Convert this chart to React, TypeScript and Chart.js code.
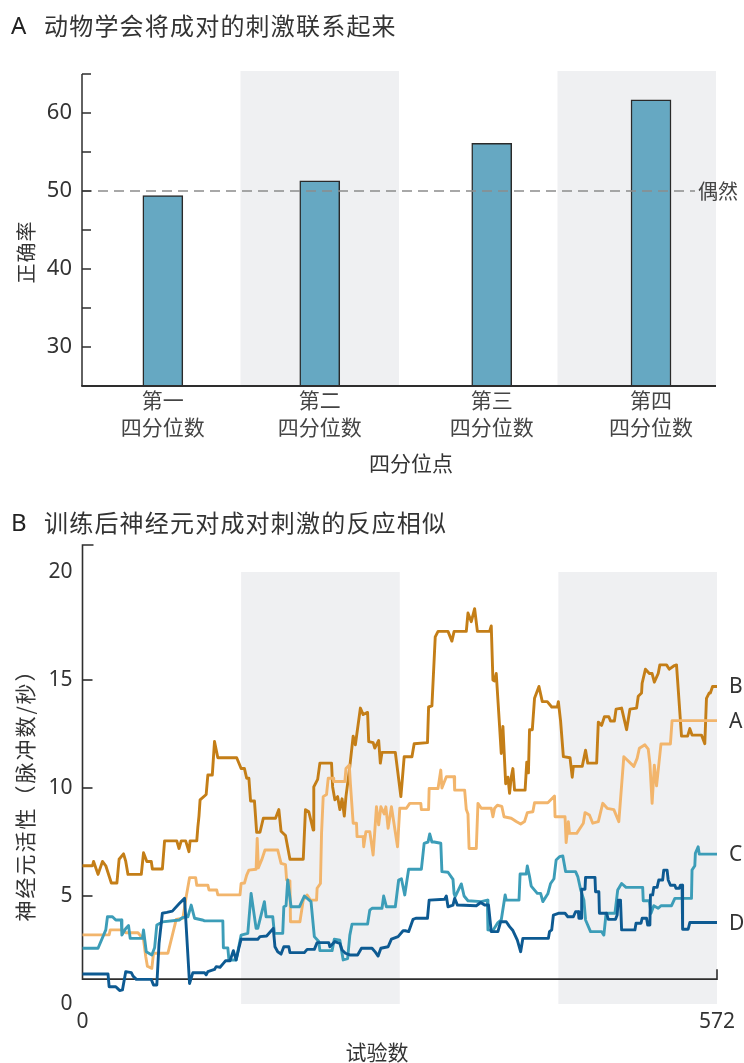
import { useEffect, useRef } from 'react';
import { Chart, registerables } from 'chart.js';

Chart.register(...registerables);

// ---------------- Panel A data ----------------
const quarterNames = ['第一', '第二', '第三', '第四'];
const quarterWord = '四分位数';
const barPositions = [0.51, 1.5, 2.585, 3.59];
const accuracyPct = [49.4, 51.3, 56.1, 61.7];
const chancePct = 50;
const accuracyTickValues = [30, 35, 40, 45, 50, 55, 60, 65];
const accuracyLabelValues = [30, 40, 50, 60];
const shadedQuartersA: [number, number][] = [[1, 2], [3, 4]];

// ---------------- Panel B data ----------------
const totalTrials = 572;
const trialTicks = [0, 572];
const rateTicks = [0, 5, 10, 15, 20];
const rateMinorTicks = [5, 10, 15];
const shadedTrialRanges: [number, number][] = [[143, 286], [429, 572]];
const trialAxisLevel = 1.15;

const seriesB: [number, number][] = [
  [0, 6.4], [9, 6.4], [10, 6.6], [14, 6.0], [18, 6.6], [21, 6.4], [26, 5.6], [31, 5.6], [33, 6.7], [37, 6.95],
  [39, 6.6], [41, 6.0], [53, 6.0], [55, 7.0], [58, 6.6], [62, 6.6], [63, 6.25], [72, 6.25], [74, 7.55], [85, 7.55],
  [87, 7.2], [89, 7.55], [93, 7.55], [96, 7.05], [97, 7.55], [103, 7.55], [104, 8.2], [105, 8.7], [106, 9.45], [111.5, 9.7],
  [113, 10.6], [117, 10.6], [119, 12.15], [122, 11.4], [139, 11.4], [143, 10.9], [146, 10.9], [148, 10.45], [150, 10.45], [151.5, 9.4],
  [155, 9.4], [157, 7.95], [160, 7.95], [163, 8.6], [174, 8.6], [177, 9.0], [179, 8.0], [183, 7.8], [187, 6.7], [199, 6.7],
  [201, 9.0], [204, 8.9], [208, 8.05], [208.5, 10.05], [212, 10.4], [214, 11.15], [224.5, 11.15], [225.5, 10.05], [227.5, 9.45], [230, 9.6],
  [232, 9.0], [234, 9.5], [236, 8.7], [237.5, 9.6], [241, 11.0], [244, 12.4], [246, 12.0], [250.5, 13.7], [253, 13.4], [257, 13.5],
  [258, 12.15], [262, 12.1], [263.5, 11.85], [267, 12.2], [268.5, 11.15], [270, 11.65], [282, 11.65], [287, 9.6], [288, 10.2], [290, 11.45],
  [297, 11.45], [299, 12.05], [311, 12.1], [312, 13.75], [315, 13.8], [318, 17.0], [320.5, 17.25], [329.5, 17.25], [333, 16.8], [335, 17.25],
  [346, 17.25], [347.5, 18.1], [350.5, 17.7], [353.5, 18.3], [356, 17.25], [367, 17.25], [368.5, 17.5], [370, 15.0], [371.5, 14.95], [373, 15.3],
  [376, 12.85], [377.5, 11.6], [379, 12.85], [381.5, 10.2], [383.5, 10.5], [385, 9.75], [386.5, 10.5], [388, 10.9], [389.5, 9.9], [399, 9.9],
  [400.5, 11.2], [402, 10.7], [403, 12.7], [405.5, 12.7], [407.5, 14.15], [411.5, 14.7], [414.5, 14.0], [419, 14.0], [423, 13.75], [428, 13.75],
  [429, 14.0], [431, 13.1], [433.5, 11.45], [439.5, 11.4], [441.5, 10.5], [442.5, 11.0], [450.5, 11.0], [453.5, 11.75], [455.5, 11.15], [463.5, 11.15],
  [465, 13.05], [468, 12.9], [470.5, 13.3], [474.5, 13.3], [476, 13.1], [479.5, 13.1], [481, 13.65], [486, 13.7], [490.5, 12.7], [493.5, 13.65],
  [499.5, 13.7], [501, 14.25], [504, 14.4], [504.5, 14.85], [507.5, 15.5], [511, 15.3], [513.5, 15.3], [515.5, 14.9], [519, 15.3], [520.5, 15.7],
  [526.5, 15.7], [529, 15.5], [533, 15.65], [535.5, 15.7], [540, 12.4], [545.5, 12.4], [547.5, 12.75], [549.5, 12.45], [558, 12.45], [561, 12.05],
  [562.5, 14.15], [565, 14.4], [566, 14.4], [568, 14.7], [572, 14.7],
];

const seriesA: [number, number][] = [
  [0, 3.2], [24, 3.2], [25, 3.43], [37, 3.43], [39, 3.3], [50, 3.3], [55, 3.0], [57, 2.2], [58.5, 1.75], [62.5, 1.65],
  [64, 2.35], [77, 2.35], [84.5, 3.92], [90.5, 3.97], [93.5, 4.97], [96.5, 5.85], [102, 5.85], [103, 5.5], [113, 5.5], [114, 5.28],
  [121, 5.28], [122, 5.05], [142, 5.05], [143, 5.58], [146, 5.6], [148, 5.97], [150, 6.2], [156.5, 6.24], [157.5, 7.67], [158.5, 6.3],
  [161.5, 6.67], [164.5, 7.13], [176, 7.13], [179, 6.51], [183, 6.45], [184, 5.74], [187, 5.7], [187.5, 3.81], [196, 3.81], [199, 4.81],
  [202.5, 5.05], [205.5, 4.81], [211, 4.81], [211.5, 5.36], [214.5, 5.58], [215.5, 7.9], [217, 9.6], [220, 9.7], [221.5, 10.45], [226, 10.45],
  [226.5, 10.3], [236.5, 10.3], [237.5, 10.9], [240.5, 11.06], [241.5, 10.2], [244, 8.37], [247, 8.37], [247.5, 7.75], [253, 7.75], [253.5, 7.28],
  [255.5, 7.98], [259, 7.98], [262, 6.9], [263.5, 8.0], [265, 9.13], [267, 8.3], [269, 9.13], [272, 8.8], [273.5, 9.13], [275.5, 8.13],
  [278.5, 9.13], [284, 7.28], [286, 9.06], [292, 9.06], [295, 9.29], [305, 9.29], [305.5, 9.0], [312, 9.0], [312.5, 9.98], [320.5, 9.98],
  [323, 10.83], [324, 10.0], [328, 10.52], [335, 10.52], [335.5, 9.9], [344.5, 9.9], [346, 9.0], [347.5, 8.8], [348.5, 7.2], [355, 7.2],
  [356.5, 9.29], [359.5, 9.06], [368.5, 9.06], [370, 8.67], [371.5, 9.06], [374, 9.2], [378, 9.15], [380, 8.67], [386.5, 8.6], [391, 8.45],
  [395, 8.33], [398.5, 8.45], [401, 8.86], [406, 8.9], [407.5, 9.32], [419.5, 9.32], [425.5, 9.63], [426, 8.67], [435, 8.67], [436, 7.47],
  [438, 8.44], [439, 7.9], [445.5, 7.9], [451.5, 8.37], [453, 8.86], [457, 8.75], [460, 8.37], [465, 8.44], [469, 9.29], [473, 9.06],
  [479, 9.0], [483.5, 8.44], [488, 11.45], [497, 11.0], [500, 11.37], [502, 11.84], [507, 12.0], [510, 11.8], [511.5, 11.14], [513.5, 9.29],
  [515.5, 11.06], [517.5, 10.1], [521.5, 12.04], [530, 12.04], [531.5, 13.12], [572, 13.12],
];

const seriesC: [number, number][] = [
  [0, 2.58], [14, 2.58], [21, 3.43], [22.5, 4.04], [27, 4.04], [30, 3.89], [35, 3.89], [35.5, 3.19], [39, 3.5], [41.5, 3.63],
  [43, 3.04], [54, 3.04], [55, 3.43], [57.5, 2.42], [62.5, 2.27], [65, 2.6], [67, 3.66], [72, 3.8], [87.5, 3.89], [90, 4.0],
  [95, 4.04], [98, 4.58], [101, 3.97], [108, 3.89], [110, 3.85], [126.5, 3.85], [127, 2.6], [131, 2.6], [132, 2.04], [138.5, 2.04],
  [143, 3.19], [149, 3.27], [152, 5.12], [156.5, 3.5], [158, 3.5], [164, 4.74], [165.5, 4.04], [171.5, 4.04], [173, 3.27], [180.5, 3.27],
  [181.5, 4.5], [183.5, 4.55], [185, 5.74], [188, 4.5], [195.5, 4.5], [200, 5.0], [206, 4.74], [209, 3.12], [213, 2.89], [214, 2.47],
  [225, 2.47], [227, 3.0], [232, 2.95], [235, 2.04], [239, 2.1], [241, 3.19], [243, 3.7], [257, 3.7], [259, 4.35], [261, 4.43],
  [270, 4.43], [271.5, 5.0], [274, 4.5], [282, 4.5], [285, 5.74], [287.5, 5.8], [290.5, 5.05], [294, 6.24], [305.5, 6.24], [308, 7.44],
  [311.5, 7.5], [313, 7.87], [315, 7.5], [317, 7.5], [323, 7.44], [324, 6.13], [329.5, 6.1], [334, 5.77], [335, 5.1], [336, 4.97],
  [341.5, 5.56], [344, 5.0], [347.5, 4.78], [359.5, 4.74], [365, 4.81], [365.5, 3.43], [370, 3.4], [374.5, 3.77], [377.5, 3.89], [381, 5.05],
  [382, 4.81], [393.5, 4.81], [394.5, 6.02], [400, 6.02], [401, 6.39], [403, 5.9], [404.5, 5.46], [410, 5.12], [413, 5.12], [415, 4.74],
  [419.5, 5.1], [422, 5.58], [425, 5.8], [427, 6.67], [430, 6.82], [433, 6.85], [435.5, 6.13], [444.5, 6.13], [446.5, 5.9], [449, 5.31],
  [452, 4.81], [453.5, 3.89], [458, 3.35], [468, 3.35], [470, 3.19], [472, 4.2], [480, 4.2], [482.5, 5.28], [486, 5.58], [490, 5.4],
  [505, 5.4], [505.5, 4.78], [511, 4.78], [512.5, 4.2], [515, 4.55], [519, 4.43], [521.5, 4.55], [531, 4.55], [534, 4.89], [549, 4.89],
  [549.5, 6.2], [552, 6.4], [552.5, 6.98], [555, 7.28], [556, 6.94], [572, 6.94],
];

const seriesD: [number, number][] = [
  [0, 1.39], [23, 1.39], [24, 0.8], [30, 0.8], [32, 0.7], [33.5, 0.62], [36, 0.65], [39, 1.5], [44, 1.45], [45.5, 1.3],
  [48.5, 1.14], [62, 1.14], [64, 0.88], [67, 0.88], [69, 2.81], [72, 4.2], [76, 4.24], [81, 4.3], [87.5, 4.66], [92, 4.89],
  [96.5, 0.95], [99.5, 1.45], [110, 1.45], [111.5, 1.35], [113, 1.5], [119, 1.6], [120.5, 1.73], [124, 1.7], [127, 1.88], [129, 2.0],
  [133, 2.0], [136, 2.47], [138.5, 2.04], [141, 2.6], [143, 3.0], [158, 3.0], [160, 3.12], [166, 3.15], [172, 3.5], [173.5, 2.65],
  [176, 2.42], [179, 2.31], [181.5, 2.65], [186, 2.65], [187, 2.38], [200, 2.38], [202.5, 2.53], [209, 2.53], [211.5, 2.84], [222, 2.84],
  [223, 2.65], [227.5, 2.89], [232, 2.8], [234, 2.5], [237, 2.35], [241, 2.27], [248, 2.27], [251.5, 2.58], [261, 2.58], [264, 2.4],
  [266.5, 2.22], [269, 2.58], [275.5, 2.65], [278.5, 3.0], [284.5, 3.12], [289, 3.39], [291, 3.39], [294, 3.35], [298, 3.92], [300.5, 3.97],
  [311, 3.97], [312.5, 4.81], [326.5, 4.85], [328, 5.0], [329.5, 4.5], [334, 4.58], [335.5, 4.89], [338, 4.58], [355, 4.55], [359, 4.7],
  [362.5, 4.58], [366, 4.58], [368.5, 3.35], [374.5, 3.35], [377, 3.81], [382, 3.81], [385, 3.58], [388, 3.4], [392, 2.96], [395, 2.42],
  [397, 3.04], [420, 3.04], [421, 3.35], [423, 3.43], [424.5, 4.12], [429, 4.2], [435, 4.2], [437.5, 4.04], [442.5, 4.04], [444.5, 4.27],
  [447, 4.27], [447.5, 3.97], [449.5, 3.97], [450, 5.31], [453, 5.31], [453.5, 5.86], [462, 5.86], [462.5, 5.2], [465.5, 5.2], [466, 4.2],
  [472.5, 4.2], [474, 3.92], [480.5, 3.92], [482, 4.12], [483, 4.81], [485, 4.81], [486, 3.43], [498, 3.43], [499, 3.74], [503.5, 3.74],
  [504.5, 3.97], [508.5, 3.97], [509.5, 3.66], [511.5, 3.66], [512, 5.05], [514, 5.05], [515, 5.4], [518, 5.4], [519.5, 5.74], [523, 5.74],
  [524, 6.2], [527, 6.2], [528, 5.74], [530, 5.5], [534, 5.5], [535, 5.36], [538, 5.36], [539, 5.5], [540.5, 5.5], [541, 3.46],
  [546, 3.46], [547.5, 3.77], [572, 3.77],
];

// drawing order: first dataset is drawn on top
const seriesNames = ['D', 'C', 'A', 'B'];
const seriesValues = [seriesD, seriesC, seriesA, seriesB];
const seriesColors = ['#0D5A92', '#3C9DB8', '#F2B56C', '#C47E17'];

// ---------------- styles ----------------
const CJK = "'Noto Sans CJK SC', 'Noto Sans', sans-serif";
const LATIN = "'Noto Sans', 'DejaVu Sans', sans-serif";
const SHADE = '#EFF0F2';
const AXIS = '#2E2E2E';
const TEXT = '#333333';

function drawRotated(ctx: CanvasRenderingContext2D, text: string, cx: number, cy: number, font: string, spacing: string) {
  ctx.save();
  ctx.translate(cx, cy);
  ctx.rotate(-Math.PI / 2);
  ctx.font = font;
  (ctx as any).letterSpacing = spacing;
  ctx.fillStyle = TEXT;
  ctx.textAlign = 'center';
  ctx.textBaseline = 'middle';
  ctx.fillText(text, 0, 0);
  ctx.restore();
}

const panelAPlugin = {
  id: 'panelA',
  beforeDatasetsDraw(chart: any) {
    const { ctx, chartArea: ca } = chart;
    const x = chart.scales.x;
    ctx.save();
    ctx.fillStyle = SHADE;
    for (const [a, b] of shadedQuartersA) {
      const x0 = x.getPixelForValue(a);
      const x1 = x.getPixelForValue(b);
      ctx.fillRect(x0, ca.top - 3, x1 - x0, ca.bottom - ca.top + 3);
    }
    ctx.restore();
  },
  afterDatasetsDraw(chart: any) {
    const { ctx, chartArea: ca } = chart;
    const y = chart.scales.y;
    ctx.save();
    const yc = y.getPixelForValue(chancePct);
    ctx.strokeStyle = '#8C8C8C';
    ctx.lineWidth = 1.6;
    ctx.setLineDash([10, 6]);
    ctx.beginPath();
    ctx.moveTo(ca.left, yc);
    ctx.lineTo(ca.right - 21, yc);
    ctx.stroke();
    ctx.setLineDash([]);

    ctx.strokeStyle = AXIS;
    ctx.lineWidth = 1.5;
    ctx.beginPath();
    ctx.moveTo(ca.left, ca.top);
    ctx.lineTo(ca.left, ca.bottom);
    ctx.stroke();
    for (const v of accuracyTickValues) {
      const py = y.getPixelForValue(v);
      ctx.beginPath();
      ctx.moveTo(ca.left, py);
      ctx.lineTo(ca.left + 9, py);
      ctx.stroke();
    }
    ctx.lineWidth = 2;
    ctx.beginPath();
    ctx.moveTo(ca.left - 0.75, ca.bottom);
    ctx.lineTo(ca.right, ca.bottom);
    ctx.stroke();

    ctx.fillStyle = '#444';
    ctx.font = `20px ${CJK}`;
    ctx.textAlign = 'left';
    ctx.textBaseline = 'middle';
    ctx.fillText('偶然', ca.right - 18, yc);

    ctx.fillStyle = TEXT;
    ctx.textAlign = 'center';
    ctx.font = `21px ${CJK}`;
    ctx.fillText('四分位点', 411, 463);
    ctx.restore();
    drawRotated(ctx, '正确率', 26, 252, `20px ${CJK}`, '1px');
  },
};

const panelBPlugin = {
  id: 'panelB',
  beforeDatasetsDraw(chart: any) {
    const { ctx, chartArea: ca } = chart;
    const x = chart.scales.x;
    const y = chart.scales.y;
    ctx.save();
    ctx.fillStyle = SHADE;
    const yTop = y.getPixelForValue(20);
    const yBot = y.getPixelForValue(0);
    for (const [a, b] of shadedTrialRanges) {
      const x0 = x.getPixelForValue(a);
      const x1 = x.getPixelForValue(b);
      ctx.fillRect(x0, yTop, x1 - x0, yBot - yTop);
    }
    const axisY = y.getPixelForValue(trialAxisLevel);
    ctx.strokeStyle = AXIS;
    ctx.lineWidth = 1.6;
    ctx.beginPath();
    ctx.moveTo(ca.left + 11, ca.top);
    ctx.lineTo(ca.left, ca.top);
    ctx.lineTo(ca.left, axisY);
    ctx.lineTo(ca.right, axisY);
    ctx.lineTo(ca.right, axisY - 10);
    ctx.stroke();
    for (const v of rateMinorTicks) {
      const py = y.getPixelForValue(v);
      ctx.beginPath();
      ctx.moveTo(ca.left, py);
      ctx.lineTo(ca.left + 10, py);
      ctx.stroke();
    }
    ctx.restore();
  },
  afterDatasetsDraw(chart: any) {
    const { ctx, chartArea: ca } = chart;
    const y = chart.scales.y;
    ctx.save();
    ctx.fillStyle = TEXT;
    ctx.font = `21px ${LATIN}`;
    ctx.textAlign = 'left';
    ctx.textBaseline = 'middle';
    seriesNames.forEach((name, i) => {
      const vals = seriesValues[i];
      const last = vals[vals.length - 1][1];
      ctx.fillText(name, ca.right + 12, y.getPixelForValue(last) + 1);
    });
    ctx.textAlign = 'center';
    ctx.font = `21px ${CJK}`;
    ctx.fillText('试验数', 377, 562);
    ctx.restore();
    drawRotated(ctx, '神经元活性（脉冲数/秒）', 25, 300, `21px ${CJK}`, '2px');
  },
};

function makeConfigA(): any {
  return {
    type: 'bar',
    data: {
      datasets: [
        {
          data: barPositions.map((p, i) => ({ x: p, y: accuracyPct[i] })),
          backgroundColor: '#66A8C2',
          borderColor: '#2A2A2A',
          borderWidth: 1.5,
          borderSkipped: 'bottom',
          barThickness: 40,
        },
      ],
    },
    options: {
      responsive: false,
      animation: false,
      devicePixelRatio: 1,
      layout: { padding: { top: 74, right: 28, left: 0, bottom: 0 } },
      plugins: { legend: { display: false }, tooltip: { enabled: false } },
      scales: {
        x: {
          type: 'linear',
          min: 0,
          max: 4,
          offset: false,
          grid: { display: false, drawTicks: false, offset: false },
          border: { display: false },
          afterBuildTicks: (s: any) => {
            s.ticks = barPositions.map((v) => ({ value: v }));
          },
          afterFit: (s: any) => {
            s.height = 94;
          },
          ticks: {
            autoSkip: false,
            maxRotation: 0,
            padding: 1,
            color: '#444',
            font: { family: CJK, size: 21, lineHeight: '27px' },
            callback: (_v: any, i: number) => [quarterNames[i], quarterWord],
          },
        },
        y: {
          type: 'linear',
          min: 25,
          max: 65,
          grid: { display: false, drawTicks: false },
          border: { display: false },
          afterBuildTicks: (s: any) => {
            s.ticks = accuracyLabelValues.map((v) => ({ value: v }));
          },
          afterFit: (s: any) => {
            s.width = 82;
          },
          ticks: {
            padding: 10,
            color: TEXT,
            font: { family: LATIN, size: 22 },
          },
        },
      },
    },
    plugins: [panelAPlugin],
  };
}

function makeConfigB(): any {
  return {
    type: 'line',
    data: {
      datasets: seriesValues.map((vals, i) => ({
        label: seriesNames[i],
        data: vals.map(([t, v]) => ({ x: t, y: v })),
        borderColor: seriesColors[i],
        borderWidth: 2.9,
        pointRadius: 0,
        tension: 0,
        fill: false,
        borderJoinStyle: 'round',
        borderCapStyle: 'round',
      })),
    },
    options: {
      responsive: false,
      animation: false,
      devicePixelRatio: 1,
      layout: { padding: { top: 55, right: 27, left: 0, bottom: 0 } },
      plugins: { legend: { display: false }, tooltip: { enabled: false } },
      scales: {
        x: {
          type: 'linear',
          min: 0,
          max: totalTrials,
          grid: { display: false, drawTicks: false },
          border: { display: false },
          afterBuildTicks: (s: any) => {
            s.ticks = trialTicks.map((v) => ({ value: v }));
          },
          afterFit: (s: any) => {
            s.height = 59;
          },
          ticks: {
            autoSkip: false,
            maxRotation: 0,
            padding: 5,
            color: TEXT,
            font: { family: LATIN, size: 21 },
          },
        },
        y: {
          type: 'linear',
          min: 0,
          max: 21.25,
          grid: { display: false, drawTicks: false },
          border: { display: false },
          afterBuildTicks: (s: any) => {
            s.ticks = rateTicks.map((v) => ({ value: v }));
          },
          afterFit: (s: any) => {
            s.width = 82.5;
          },
          ticks: {
            padding: 10,
            color: TEXT,
            font: { family: LATIN, size: 21 },
          },
        },
      },
    },
    plugins: [panelBPlugin],
  };
}

const letterStyle: any = {
  position: 'absolute',
  left: 11,
  fontFamily: LATIN,
  fontSize: 24,
  lineHeight: '30px',
  color: '#222',
};
const cjkTitleStyle: any = {
  position: 'absolute',
  left: 44,
  fontFamily: CJK,
  fontSize: 24,
  letterSpacing: '1.2px',
  lineHeight: '30px',
  color: '#333',
  whiteSpace: 'nowrap',
};

export default function App() {
  const aRef = useRef<HTMLCanvasElement>(null);
  const bRef = useRef<HTMLCanvasElement>(null);

  useEffect(() => {
    const a = new Chart(aRef.current as HTMLCanvasElement, makeConfigA());
    const b = new Chart(bRef.current as HTMLCanvasElement, makeConfigB());
    return () => {
      a.destroy();
      b.destroy();
    };
  }, []);

  return (
    <div
      style={{
        position: 'absolute',
        left: 0,
        top: 0,
        width: 744,
        height: 1063,
        overflow: 'hidden',
        background: '#ffffff',
      }}
    >
      <canvas
        ref={aRef}
        width={744}
        height={480}
        style={{ position: 'absolute', left: 0, top: 0, width: 744, height: 480 }}
      />
      <canvas
        ref={bRef}
        width={744}
        height={573}
        style={{ position: 'absolute', left: 0, top: 490, width: 744, height: 573 }}
      />
      <div style={{ ...letterStyle, top: 10 }}>A</div>
      <div style={{ ...cjkTitleStyle, top: 10 }}>动物学会将成对的刺激联系起来</div>
      <div style={{ ...letterStyle, top: 507 }}>B</div>
      <div style={{ ...cjkTitleStyle, top: 507 }}>训练后神经元对成对刺激的反应相似</div>
    </div>
  );
}
